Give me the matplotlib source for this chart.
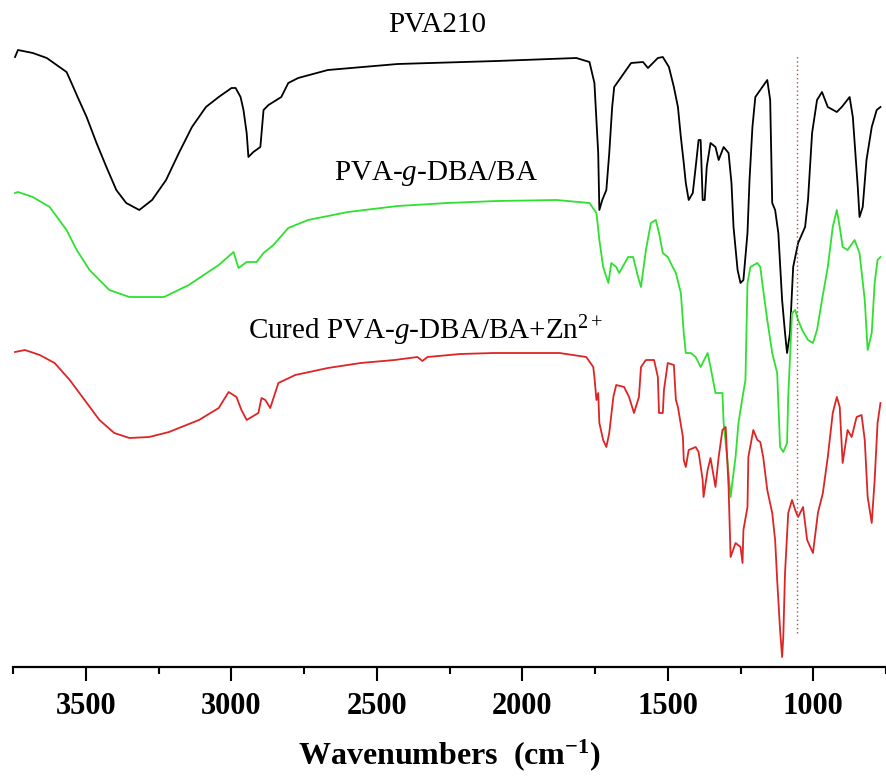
import matplotlib
matplotlib.use("Agg")
import matplotlib.pyplot as plt
import numpy as np

plt.rcParams.update({"font.family": "Liberation Serif",
                     "mathtext.fontset": "custom",
                     "mathtext.rm": "Liberation Serif",
                     "mathtext.it": "Liberation Serif:italic",
                     "mathtext.bf": "Liberation Serif:bold"})

# stacked FTIR spectra, transmittance in a.u. (offsets already included)
pva_wn = [3743, 3733, 3682, 3634, 3600, 3566, 3549, 3528, 3497, 3463, 3429, 3395, 3361, 3316,
          3272, 3224, 3180, 3135, 3087, 3043, 2999, 2985, 2968, 2958, 2947, 2941, 2924, 2900,
          2889, 2872, 2828, 2804, 2770, 2668, 2428, 2087, 1814, 1769, 1752, 1739, 1735, 1725,
          1711, 1701, 1691, 1684, 1667, 1626, 1585, 1568, 1534, 1517, 1496, 1479, 1465, 1455,
          1445, 1438, 1428, 1414, 1404, 1394, 1387, 1380, 1373, 1366, 1353, 1336, 1325, 1308,
          1291, 1281, 1274, 1260, 1250, 1240, 1226, 1219, 1209, 1199, 1175, 1158, 1148, 1141,
          1131, 1120, 1107, 1097, 1090, 1080, 1069, 1052, 1028, 1018, 1004, 987, 970, 950,
          919, 902, 875, 864, 847, 841, 830, 817, 799, 782, 769]
pva_t = [610, 617, 614, 609, 602, 595, 584, 570, 550, 524, 500, 477, 464, 457,
         467, 487, 514, 540, 560, 570, 579, 579, 570, 557, 534, 510, 515, 520,
         557, 562, 570, 584, 589, 597, 603, 606, 609, 605, 584, 514, 457, 467,
         477, 514, 560, 580, 587, 604, 605, 599, 609, 610, 600, 580, 560, 530,
         504, 484, 467, 474, 500, 527, 527, 467, 467, 500, 524, 520, 507, 520,
         514, 484, 440, 397, 384, 387, 434, 487, 540, 570, 580, 587, 567, 464,
         457, 434, 367, 334, 314, 334, 400, 424, 440, 467, 534, 567, 575, 560,
         555, 560, 570, 550, 480, 450, 460, 507, 540, 557, 560]

gft_wn = [3743, 3733, 3682, 3624, 3566, 3531, 3487, 3419, 3350, 3231, 3146, 3043, 2992, 2975,
          2947, 2913, 2889, 2855, 2804, 2736, 2599, 2428, 2258, 2087, 1882, 1769, 1745, 1735,
          1722, 1704, 1694, 1677, 1667, 1636, 1619, 1602, 1592, 1575, 1558, 1541, 1530, 1517,
          1500, 1483, 1472, 1455, 1445, 1438, 1421, 1404, 1387, 1363, 1353, 1336, 1312, 1308,
          1294, 1284, 1274, 1267, 1257, 1243, 1233, 1226, 1216, 1192, 1182, 1172, 1158, 1141,
          1124, 1114, 1103, 1090, 1086, 1073, 1062, 1052, 1038, 1018, 1001, 987, 970, 950,
          933, 919, 909, 899, 882, 858, 841, 823, 813, 799, 789, 779, 769]
gft_t = [474, 475, 470, 460, 437, 417, 397, 377, 370, 370, 382, 402, 415, 399,
         405, 405, 414, 422, 439, 447, 455, 461, 464, 466, 467, 464, 454, 427,
         400, 384, 404, 400, 394, 410, 410, 390, 380, 417, 444, 447, 434, 414,
         410, 400, 394, 374, 334, 314, 314, 310, 300, 314, 300, 274, 274, 244,
         204, 170, 194, 210, 244, 270, 287, 384, 400, 404, 400, 377, 347, 314,
         294, 220, 215, 224, 270, 354, 357, 347, 337, 327, 324, 337, 367, 400,
         440, 457, 440, 420, 417, 427, 414, 367, 317, 334, 384, 407, 410]

zn_wn = [3743, 3709, 3658, 3607, 3555, 3504, 3453, 3402, 3350, 3282, 3214, 3111, 3043, 3009,
         2982, 2965, 2947, 2907, 2896, 2883, 2866, 2838, 2780, 2668, 2555, 2439, 2360, 2343,
         2326, 2213, 2097, 1872, 1780, 1756, 1752, 1745, 1739, 1735, 1722, 1711, 1701, 1687,
         1677, 1650, 1633, 1616, 1599, 1592, 1575, 1547, 1534, 1530, 1517, 1513, 1500, 1479,
         1472, 1465, 1448, 1445, 1438, 1428, 1404, 1394, 1380, 1377, 1363, 1353, 1346, 1336,
         1325, 1312, 1301, 1291, 1284, 1267, 1250, 1243, 1240, 1226, 1223, 1206, 1192, 1182,
         1172, 1158, 1141, 1131, 1124, 1114, 1107, 1103, 1097, 1086, 1073, 1062, 1052, 1035,
         1021, 1001, 984, 967, 950, 933, 919, 909, 899, 882, 868, 851, 834, 823, 813,
         799, 789, 779, 769]
zn_t = [315, 317, 312, 304, 287, 267, 247, 234, 229, 230, 235, 247, 259, 275,
        270, 257, 247, 254, 269, 267, 259, 284, 292, 299, 304, 307, 310, 306,
        310, 313, 314, 314, 310, 300, 290, 267, 274, 244, 227, 220, 234, 270,
        282, 280, 270, 254, 270, 300, 307, 307, 290, 254, 254, 277, 304, 302,
        267, 260, 230, 207, 200, 217, 220, 215, 187, 170, 197, 209, 197, 180,
        210, 237, 240, 180, 110, 124, 120, 104, 137, 160, 210, 237, 227, 225,
        210, 177, 154, 127, 87, 37, 10, 30, 94, 154, 167, 157, 150, 160,
        127, 114, 154, 174, 210, 254, 270, 260, 204, 237, 230, 250, 252, 227, 170,
        144, 187, 244, 264]

MARK_WN = 1055          # dotted reference line
MARK_T = (34, 612)

fig = plt.figure(figsize=(8.86, 7.76), dpi=100)
ax = fig.add_axes([13 / 886, 109 / 776, 873 / 886, 667 / 776])

ax.plot(pva_wn, pva_t, color="black", lw=1.3)
ax.plot(gft_wn, gft_t, color="#2fe02f", lw=1.3)
ax.plot(zn_wn, zn_t, color="#dd2525", lw=1.3)
ax.plot([MARK_WN, MARK_WN], MARK_T, color="#a0524a", lw=1.0, ls=(0, (1, 2)))

ax.text(2292, 642, "PVA210", ha="center", va="center", fontsize=21)
ax.text(2295, 494, "PVA-$\\mathit{g}$-DBA/BA", ha="center", va="center", fontsize=21)
ax.text(2333, 336, "Cured PVA-$\\mathit{g}$-DBA/BA+Zn$^{2+}$", ha="center", va="center", fontsize=21)

ax.set_xlim(3750, 770)
ax.set_ylim(0, 667)
for s in ("left", "right", "top"):
    ax.spines[s].set_visible(False)
ax.spines["bottom"].set_linewidth(1.6)
ax.set_yticks([])
ax.set_xticks([3500, 3000, 2500, 2000, 1500, 1000])
ax.set_xticks(np.arange(3750, 700, -250), minor=True)
ax.tick_params(axis="x", which="major", direction="out", length=10, width=1.5, pad=8)
ax.tick_params(axis="x", which="minor", direction="out", length=5, width=1.5)
for lab in ax.get_xticklabels():
    lab.set_fontsize(22)
    lab.set_fontweight("bold")
ax.set_xlabel("Wavenumbers  (cm$^{\\mathbf{-1}}$)", fontsize=23, fontweight="bold", labelpad=12)

fig.savefig("out.png", dpi=100)
